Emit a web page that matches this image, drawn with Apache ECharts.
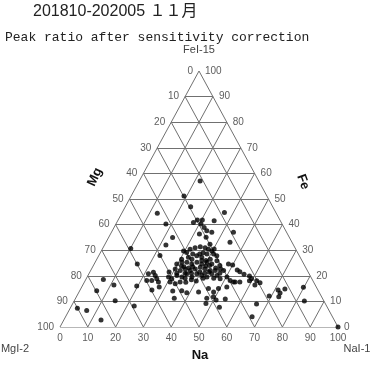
<!DOCTYPE html>
<html>
<head>
<meta charset="utf-8">
<script src="https://cdn.jsdelivr.net/npm/echarts@6/dist/echarts.min.js"></script>
<style>
html, body { margin: 0; padding: 0; background: #fff; }
#chart { width: 374px; height: 371px; }
</style>
</head>
<body>
<div id="chart"></div>
<script>
// ternary tick values (percent)
const ticks = [0, 10, 20, 30, 40, 50, 60, 70, 80, 90, 100];

// samples as [Na, Fe] in percent, Mg = 100 - Na - Fe
const outerPoints = [
    [21.9, 57.0], [19.0, 51.2], [23.5, 47.0], [12.8, 44.4], [18.0, 40.2],
    [27.6, 40.8], [28.5, 41.8], [30.3, 41.8], [30.6, 40.2], [34.7, 41.5],
    [36.8, 44.7], [32.4, 38.9], [34.0, 37.6], [32.0, 36.3], [36.1, 37.0],
    [43.9, 37.0], [23.0, 35.0], [44.6, 33.1], [22.1, 32.0], [10.1, 30.7],
    [22.0, 27.9], [15.5, 24.6], [6.3, 18.6], [11.2, 16.4], [6.1, 14.2],
    [19.6, 16.0], [14.7, 10.3], [22.6, 8.2], [2.6, 7.3], [6.4, 6.4],
    [13.4, 2.7], [100, 0], [48.3, 24.6], [50.0, 24.2], [52.6, 22.3],
    [53.9, 21.6], [55.9, 20.6], [58.2, 19.9], [59.1, 18.1], [61.7, 18.1],
    [63.3, 17.3], [61.9, 16.4], [69.2, 12.1], [71.2, 14.5], [72.8, 11.8],
    [73.5, 14.8], [72.5, 13.3], [79.8, 15.5], [82.8, 10.2], [66.2, 9.0],
    [67.1, 4.0], [54.0, 10.9], [53.5, 7.7], [50.9, 10.5], [47.9, 9.2],
    [47.2, 11.2], [35.5, 11.2], [33.5, 14.1], [36.7, 14.2], [38.9, 13.4],
    [25.8, 14.5]
];

const clusterPoints = [
    [35.0, 35.1], [29.6, 29.7], [31.0, 29.1], [31.6, 30.4], [33.1, 31.0],
    [34.8, 31.3], [36.7, 31.0], [38.2, 30.4], [39.8, 29.7], [41.0, 28.5],
    [42.5, 27.8], [32.6, 27.2], [34.2, 26.5], [35.3, 27.8], [37.4, 27.2],
    [38.6, 28.5], [40.8, 26.5], [29.7, 24.6], [31.2, 25.3], [33.0, 25.3],
    [35.1, 24.6], [36.6, 25.3], [38.7, 24.6], [40.2, 25.3], [42.3, 24.6],
    [43.5, 25.9], [30.1, 22.7], [32.2, 22.1], [33.7, 22.7], [35.8, 22.1],
    [37.3, 22.7], [38.8, 23.3], [40.9, 22.7], [43.0, 22.1], [44.8, 22.1],
    [46.3, 22.7], [47.8, 22.1], [59.5, 18.8], [21.4, 20.8], [22.9, 21.4],
    [24.2, 20.1], [22.1, 18.2], [23.9, 18.2], [25.4, 18.8], [26.6, 17.6],
    [29.3, 19.5], [30.8, 18.8], [32.0, 20.1], [34.1, 19.5], [35.2, 20.8],
    [37.7, 19.5], [38.8, 20.8], [41.0, 20.1], [43.1, 19.5], [44.2, 20.8],
    [46.4, 20.1], [48.2, 18.8], [50.3, 19.5], [52.1, 18.2], [53.6, 17.6],
    [30.8, 17.6], [33.0, 16.9], [34.4, 17.6], [27.9, 15.6], [43.0, 13.7],
    [45.9, 15.0], [48.4, 13.7], [49.5, 15.0], [52.2, 15.6], [54.2, 17.6],
    [55.9, 17.6], [49.3, 11.8], [36.0, 23.5], [39.5, 21.5], [34.5, 21.0],
    [41.8, 24.0], [37.0, 29.0], [42.0, 19.0], [31.8, 23.8], [45.5, 24.0],
    [40.0, 18.0], [36.5, 17.5], [33.5, 28.5], [39.5, 26.0], [30.5, 26.5],
    [32.8, 23.5], [34.8, 23.0], [36.8, 21.0], [38.0, 26.0], [40.5, 23.8],
    [42.8, 21.5], [44.5, 23.0], [36.0, 28.5], [38.0, 18.5], [35.5, 19.0],
    [31.5, 21.0], [28.5, 21.5], [41.5, 21.0], [45.8, 19.0], [47.0, 21.0],
    [40.2, 30.5], [37.8, 32.3]
];

const titleText = "201810-202005 １１月";
const subtitleText = "Peak ratio after sensitivity correction";

// ternary (Na, Fe) -> cartesian on a 0..100 box
const toXY = (na, fe) => [na + fe / 2, fe];

const gridSegs = [];
ticks.forEach((t) => {
    if (t === 100) return;
    gridSegs.push({ coords: [toXY(0, t), toXY(100 - t, t)] });        // Fe = t
    gridSegs.push({ coords: [toXY(t, 0), toXY(t, 100 - t)] });        // Na = t
    gridSegs.push({ coords: [toXY(100 - t, 0), toXY(0, 100 - t)] });  // Mg = t
});

const tickFont = { fontFamily: "Liberation Sans", fontSize: 10, color: "#333" };

const tickSeries = (data, position, distance) => ({
    type: "scatter",
    symbolSize: 0,
    silent: true,
    data,
    label: {
        show: true,
        position,
        distance,
        formatter: (p) => String(p.value[2]),
        ...tickFont,
    },
    z: 5,
});

const chart = echarts.init(document.getElementById("chart"), null, { renderer: "canvas" });

chart.setOption({
    animation: false,
    grid: { left: 60, top: 71, width: 278, height: 256 },
    xAxis: { type: "value", min: 0, max: 100, show: false },
    yAxis: { type: "value", min: 0, max: 100, show: false },
    series: [
        {
            type: "lines",
            coordinateSystem: "cartesian2d",
            silent: true,
            data: gridSegs,
            lineStyle: { color: "#707070", width: 1, opacity: 1 },
            z: 1,
        },
        tickSeries(ticks.map((f) => [f / 2, f, 100 - f]), "left", 6),
        tickSeries(ticks.map((f) => [100 - f / 2, f, f]), "right", 6),
        tickSeries(ticks.map((n) => [n, 0, n]), "bottom", 6),
        {
            type: "scatter",
            symbol: "circle",
            symbolSize: 5,
            itemStyle: { color: "#000" },
            data: outerPoints.concat(clusterPoints).map(([na, fe]) => toXY(na, fe)),
            z: 10,
        },
    ],
    graphic: [
        {
            type: "text", left: 33, top: 4,
            style: { text: titleText, font: '16px "Liberation Sans", "Noto Sans CJK JP"', fill: "#222" },
        },
        {
            type: "text", left: 5, top: 31,
            style: { text: subtitleText, font: '13px "Liberation Mono"', fill: "#222" },
        },
        {
            type: "text", x: 199, y: 50,
            style: { text: "FeI-15", font: '11px "Liberation Sans"', fill: "#444", align: "center", verticalAlign: "middle" },
        },
        {
            type: "text", x: 15, y: 349,
            style: { text: "MgI-2", font: '11px "Liberation Sans"', fill: "#444", align: "center", verticalAlign: "middle" },
        },
        {
            type: "text", x: 357, y: 349,
            style: { text: "NaI-1", font: '11px "Liberation Sans"', fill: "#444", align: "center", verticalAlign: "middle" },
        },
        {
            type: "text", x: 200, y: 355,
            style: { text: "Na", font: 'bold 13px "Liberation Sans Narrow", "Liberation Sans"', fill: "#111", align: "center", verticalAlign: "middle" },
        },
        {
            type: "text", x: 95, y: 177, rotation: Math.PI * 65 / 180,
            style: { text: "Mg", font: 'bold 13px "Liberation Sans Narrow", "Liberation Sans"', fill: "#111", align: "center", verticalAlign: "middle" },
        },
        {
            type: "text", x: 303, y: 182, rotation: -Math.PI * 70 / 180,
            style: { text: "Fe", font: 'bold 13px "Liberation Sans Narrow", "Liberation Sans"', fill: "#111", align: "center", verticalAlign: "middle" },
        },
    ],
});
</script>
</body>
</html>
